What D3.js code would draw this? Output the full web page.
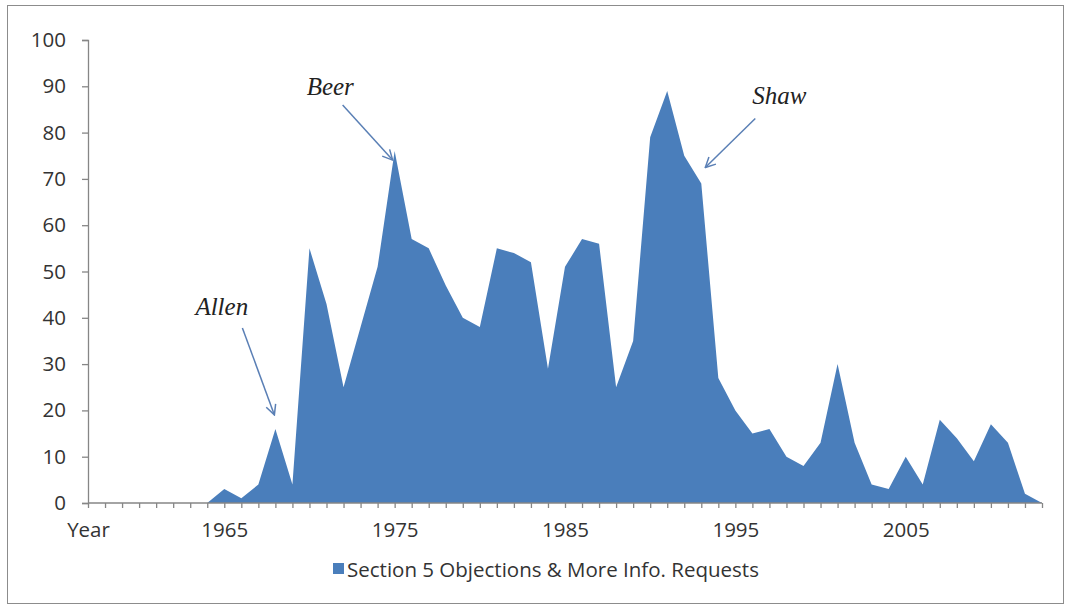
<!DOCTYPE html>
<html>
<head>
<meta charset="utf-8">
<script src="https://cdn.jsdelivr.net/npm/d3@7"></script>
<style>
  html, body { margin: 0; padding: 0; background: #fff; }
  svg { display: block; }
</style>
</head>
<body>
<script>
// ---- data ----
const years = [1957,1958,1959,1960,1961,1962,1963,1964,1965,1966,1967,1968,1969,1970,
  1971,1972,1973,1974,1975,1976,1977,1978,1979,1980,1981,1982,1983,1984,1985,1986,
  1987,1988,1989,1990,1991,1992,1993,1994,1995,1996,1997,1998,1999,2000,2001,2002,
  2003,2004,2005,2006,2007,2008,2009,2010,2011,2012,2013];
const objections = [0,0,0,0,0,0,0,0,3,1,4,16,4,55,
  43,25,38,51,76,57,55,47,40,38,55,54,52,29,51,57,
  56,25,35,79,89,75,69,27,20,15,16,10,8,13,30,13,
  4,3,10,4,18,14,9,17,13,2,0];
const tickYears = [1957,1965,1975,1985,1995,2005];
const tickLabels = ["Year","1965","1975","1985","1995","2005"];
const yTicks = [0,10,20,30,40,50,60,70,80,90,100];
const seriesName = "Section 5 Objections & More Info. Requests";
const annoNames = ["Allen","Beer","Shaw"];
const annoYears = [1968,1975,1993];

// ---- layout ----
const W = 1071, H = 608;
const svg = d3.select("body").append("svg").attr("width", W).attr("height", H);

svg.append("rect").attr("x", 7.5).attr("y", 5.5).attr("width", 1056).attr("height", 598)
  .attr("fill", "#fff").attr("stroke", "#8c8c8c").attr("stroke-width", 1);

const x = d3.scalePoint().domain(years).range([88, 1042]);
const y = d3.scaleLinear().domain([0, 100]).range([503, 40]);

const data = years.map((yr, i) => ({ year: yr, v: objections[i] }));

// area
svg.append("path")
  .datum(data)
  .attr("fill", "#4a7ebb")
  .attr("d", d3.area().x(d => x(d.year)).y0(y(0)).y1(d => y(d.v)));

const axisColor = "#868686";
const font = "'Open Sans', Lato, sans-serif";
const fs = "20.5px";

// y axis
const gy = svg.append("g").attr("transform", "translate(88,0)")
  .call(d3.axisLeft(y).tickValues(yTicks).tickSize(6).tickPadding(16).tickFormat(d3.format("d")));
gy.select(".domain").attr("stroke", axisColor).attr("stroke-width", 1.3);
gy.selectAll(".tick line").attr("stroke", axisColor).attr("stroke-width", 1.3);
gy.selectAll(".tick text").attr("fill", "#333").style("font-family", font).style("font-size", fs);

// x axis
const labelMap = new Map(tickYears.map((t, i) => [t, tickLabels[i]]));
const gx = svg.append("g").attr("transform", `translate(0,${y(0)})`)
  .call(d3.axisBottom(x).tickSize(5).tickPadding(14).tickFormat(d => labelMap.get(d) || ""));
gx.select(".domain").attr("stroke", axisColor).attr("stroke-width", 1.3).attr("d", `M88,0H1042`);
gx.selectAll(".tick line").attr("stroke", axisColor).attr("stroke-width", 1.3);
gx.selectAll(".tick text").attr("fill", "#333").style("font-family", font).style("font-size", fs);

// legend
const lg = svg.append("g");
lg.append("rect").attr("x", 333).attr("y", 563).attr("width", 11).attr("height", 11).attr("fill", "#4a7ebb");
lg.append("text").attr("x", 347).attr("y", 577).attr("fill", "#333")
  .style("font-family", font).style("font-size", fs).text(seriesName);

// annotations
const defs = svg.append("defs");
defs.append("marker").attr("id", "arr").attr("viewBox", "0 0 12 12")
  .attr("refX", 11).attr("refY", 6).attr("markerWidth", 12).attr("markerHeight", 12)
  .attr("markerUnits", "userSpaceOnUse").attr("orient", "auto")
  .append("path").attr("d", "M1,1 L11,6 L1,11").attr("fill", "none")
  .attr("stroke", "#5a7fb5").attr("stroke-width", 1.5);

const annoOffsets = [
  { tx: -80, ty: -114, sx: -33, sy: -101, ex: -1, ey: -14 },
  { tx: -88, ty: -56, sx: -52, sy: -46, ex: -2, ey: 9 },
  { tx: 51, ty: -80, sx: 54, sy: -65, ex: 4, ey: -16 }
];
annoNames.forEach((name, i) => {
  const yr = annoYears[i];
  const px = x(yr), py = y(objections[years.indexOf(yr)]);
  const o = annoOffsets[i];
  svg.append("text").attr("x", px + o.tx).attr("y", py + o.ty)
    .attr("fill", "#222").style("font-family", "'Liberation Serif', 'DejaVu Serif', serif")
    .style("font-style", "italic").style("font-size", "25px").text(name);
  svg.append("line").attr("x1", px + o.sx).attr("y1", py + o.sy)
    .attr("x2", px + o.ex).attr("y2", py + o.ey)
    .attr("stroke", "#5a7fb5").attr("stroke-width", 1.5).attr("marker-end", "url(#arr)");
});
</script>
</body>
</html>
